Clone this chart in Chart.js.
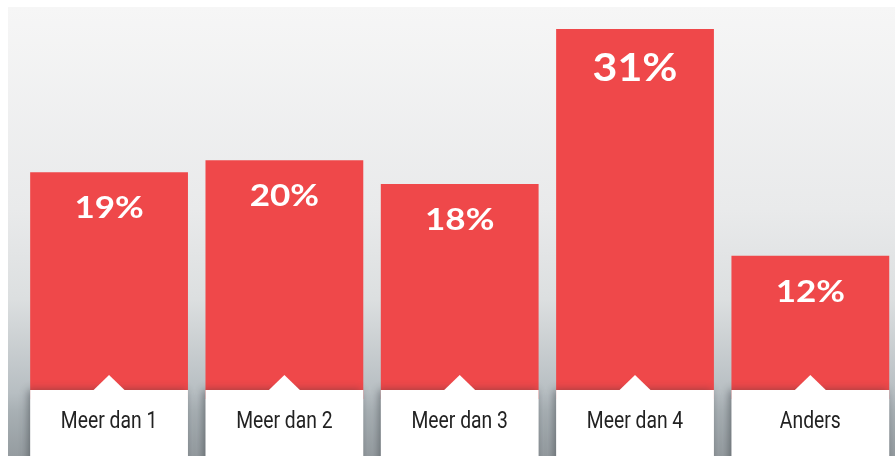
<!DOCTYPE html>
<html>
<head>
<meta charset="utf-8">
<script src="https://cdn.jsdelivr.net/npm/chart.js@4"></script>
<style>
    html, body { margin: 0; padding: 0; background: #ffffff; overflow: hidden; }
    #wrap { width: 895px; height: 456px; overflow: hidden; }
</style>
</head>
<body>
<div id="wrap"><canvas id="chart" width="898" height="456"></canvas></div>
<script>
// Data
const categories = ["Meer dan 1", "Meer dan 2", "Meer dan 3", "Meer dan 4", "Anders"];
const shares = [19, 20, 18, 31, 12];
const valueLabels = ["19%", "20%", "18%", "31%", "12%"];

const barRed = "#ef484a";
const boxTop = 390;

// panel background with grey gradient
const backgroundPanel = {
    id: "backgroundPanel",
    beforeDraw: function (chart) {
        const ctx = chart.ctx;
        const g = ctx.createLinearGradient(0, 7, 0, chart.height);
        g.addColorStop(0, "#f6f6f6");
        g.addColorStop(0.45, "#e9eaeb");
        g.addColorStop(0.65, "#dcdfe0");
        g.addColorStop(0.86, "#b7bec2");
        g.addColorStop(0.9, "#a8b0b4");
        g.addColorStop(1, "#959ca0");
        ctx.save();
        ctx.fillStyle = "#ffffff";
        ctx.fillRect(0, 0, chart.width, chart.height);
        ctx.fillStyle = g;
        ctx.fillRect(8, 7, chart.width - 8, chart.height - 7);
        ctx.restore();
    },
};

// text squeezed or widened a little to match the original typefaces
function drawScaledText(ctx, text, x, y, sx) {
    ctx.save();
    ctx.translate(x, y);
    ctx.scale(sx, 1);
    ctx.fillText(text, 0, 0);
    ctx.restore();
}

// label boxes under the bars and percentages inside
const barLabels = {
    id: "barLabels",
    afterDatasetsDraw: function (chart) {
        const ctx = chart.ctx;
        const bars = chart.getDatasetMeta(0).data;
        ctx.save();
        bars.forEach(function (bar, i) {
            const left = bar.x - bar.width / 2;
            const w = bar.width;

            // white box with soft shadow on the left
            ctx.save();
            ctx.shadowColor = "rgba(40,45,50,0.45)";
            ctx.shadowBlur = 8;
            ctx.shadowOffsetX = -2;
            ctx.fillStyle = "#ffffff";
            ctx.fillRect(left, boxTop, w, chart.height - boxTop + 10);
            ctx.restore();

            // small notch
            ctx.fillStyle = "#ffffff";
            ctx.beginPath();
            ctx.moveTo(bar.x - 16, boxTop + 0.5);
            ctx.lineTo(bar.x, boxTop - 15);
            ctx.lineTo(bar.x + 16, boxTop + 0.5);
            ctx.closePath();
            ctx.fill();

            ctx.textAlign = "center";
            ctx.textBaseline = "middle";

            // category text
            ctx.fillStyle = "#222222";
            ctx.font = '23px "Roboto", sans-serif';
            drawScaledText(ctx, categories[i], bar.x, 422, 0.84);

            // value text
            const big = shares[i] >= 30;
            ctx.fillStyle = "#ffffff";
            ctx.font = (big ? "bold 38px" : "bold 31px") + ' "Lato", "Inter", sans-serif';
            drawScaledText(ctx, valueLabels[i], bar.x, bar.y + (big ? 40 : 36), 1.13);
        });
        ctx.restore();
    },
};

new Chart("chart", {
    type: "bar",
    data: {
        labels: categories,
        datasets: [
            {
                data: shares,
                backgroundColor: barRed,
                borderWidth: 0,
                barPercentage: 0.9,
                categoryPercentage: 1,
            },
        ],
    },
    options: {
        responsive: false,
        animation: false,
        layout: {
            padding: { left: 21.4, right: 0, top: 5, bottom: 57 },
        },
        plugins: {
            legend: { display: false },
            tooltip: { enabled: false },
        },
        scales: {
            x: { display: false },
            y: { display: false, min: 0, max: 33 },
        },
    },
    plugins: [backgroundPanel, barLabels],
});
</script>
</body>
</html>
